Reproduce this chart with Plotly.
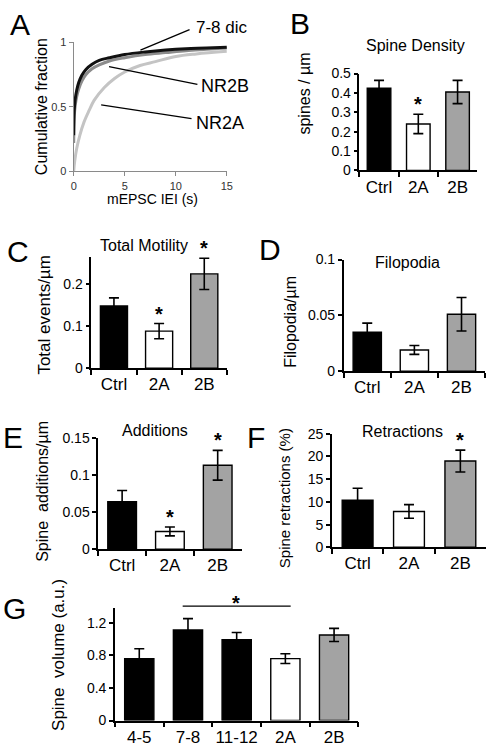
import plotly.graph_objects as go

W, H = 495, 755
FONT = "Liberation Sans, Arial, sans-serif"

# ---------------- data ----------------
# Panel A: cumulative fraction of mEPSC IEI
a_dic_x = [0, 0.05, 0.15, 0.3, 0.5, 0.8, 1.2, 1.8, 2.5, 3.5, 5, 7, 9, 11, 13, 15]
a_dic_y = [0.28, 0.47, 0.56, 0.63, 0.69, 0.745, 0.79, 0.83, 0.86, 0.88, 0.905, 0.925, 0.94, 0.95, 0.955, 0.962]
a_nr2b_x = [0, 0.05, 0.15, 0.3, 0.5, 0.8, 1.2, 1.8, 2.5, 3.5, 5, 7, 9, 11, 13, 15]
a_nr2b_y = [0.22, 0.42, 0.51, 0.58, 0.64, 0.7, 0.75, 0.795, 0.825, 0.855, 0.88, 0.905, 0.92, 0.935, 0.945, 0.955]
a_nr2a_x = [0, 0.1, 0.3, 0.6, 1.0, 1.5, 2.0, 3.0, 4.0, 5.0, 6.5, 8, 10, 12, 15]
a_nr2a_y = [0.0, 0.08, 0.18, 0.28, 0.38, 0.47, 0.55, 0.65, 0.72, 0.77, 0.82, 0.85, 0.89, 0.91, 0.93]

groups3 = ["Ctrl", "2A", "2B"]
colors3 = ["#000000", "#ffffff", "#a3a3a3"]

b_vals = [0.425, 0.24, 0.405]
b_err = [0.04, 0.05, 0.06]

c_vals = [0.148, 0.088, 0.224]
c_err = [0.019, 0.018, 0.037]

d_vals = [0.035, 0.019, 0.051]
d_err = [0.008, 0.004, 0.015]

e_vals = [0.064, 0.024, 0.113]
e_err = [0.015, 0.006, 0.020]

f_vals = [10.4, 7.9, 19.0]
f_err = [2.6, 1.5, 2.4]

groups5 = ["4-5", "7-8", "11-12", "2A", "2B"]
colors5 = ["#000000", "#000000", "#000000", "#ffffff", "#a3a3a3"]
g_vals = [0.76, 1.11, 0.99, 0.76, 1.05]
g_err = [0.12, 0.14, 0.09, 0.06, 0.08]


def px(x):
    return x / W


def py(y):
    return 1 - y / H


fig = go.Figure()

# ---------------- panel A ----------------
fig.add_trace(go.Scatter(x=a_nr2a_x, y=a_nr2a_y, mode="lines", line=dict(color="#c4c4c4", width=3, shape="spline"),
                         xaxis="x", yaxis="y", showlegend=False))
fig.add_trace(go.Scatter(x=a_nr2b_x, y=a_nr2b_y, mode="lines", line=dict(color="#8c8c8c", width=3, shape="spline"),
                         xaxis="x", yaxis="y", showlegend=False))
fig.add_trace(go.Scatter(x=a_dic_x, y=a_dic_y, mode="lines", line=dict(color="#111111", width=3, shape="spline"),
                         xaxis="x", yaxis="y", showlegend=False))

# ---------------- bar panels ----------------
panels = [
    ("2", groups3, colors3, b_vals, b_err),
    ("3", groups3, colors3, c_vals, c_err),
    ("4", groups3, colors3, d_vals, d_err),
    ("5", groups3, colors3, e_vals, e_err),
    ("6", groups3, colors3, f_vals, f_err),
    ("7", groups5, colors5, g_vals, g_err),
]
for ax, cats, cols, vals, errs in panels:
    fig.add_trace(go.Bar(
        x=cats, y=vals, width=0.6,
        marker=dict(color=cols, line=dict(color="#000000", width=1.4)),
        error_y=dict(type="data", array=errs, visible=True, color="#000000", thickness=1.6, width=5),
        xaxis="x" + ax, yaxis="y" + ax, showlegend=False,
    ))

# axis domains in pixels: (x0, x1, ytop, ybottom)
dom = {
    "": (72, 228, 35, 167),
    "2": (363, 483, 67, 166),
    "3": (90, 228, 254, 368),
    "4": (347, 491, 257, 371),
    "5": (97, 243, 439, 553),
    "6": (335, 492, 435, 551),
    "7": (114, 362, 613, 728),
}

xtickfont = dict(family=FONT, size=17, color="#000000")
ytickfont = dict(family=FONT, size=14, color="#000000")
layout = dict(
    width=W, height=H, margin=dict(l=0, r=0, t=0, b=0),
    paper_bgcolor="white", plot_bgcolor="white",
    font=dict(family=FONT, size=14, color="#000000"),
    bargap=0.4,
)

# panel A axes
x0, x1, yt, yb = dom[""]
layout["xaxis"] = dict(domain=[px(x0), px(x1)], range=[0, 15], tickvals=[0, 5, 10, 15],
                       showline=True, linecolor="#8a8a8a", linewidth=1, ticks="outside", ticklen=4,
                       tickcolor="#8a8a8a", showgrid=False, zeroline=False,
                       tickfont=dict(family=FONT, size=11, color="#333333"), anchor="y")
layout["yaxis"] = dict(domain=[py(yb), py(yt)], range=[0, 1], tickvals=[0, 0.5, 1],
                       ticktext=["0", "0.5", "1"],
                       showline=True, linecolor="#8a8a8a", linewidth=1, ticks="outside", ticklen=4,
                       tickcolor="#8a8a8a", showgrid=False, zeroline=False,
                       tickfont=dict(family=FONT, size=11, color="#333333"), anchor="x")

yaxis_specs = {
    "2": dict(range=[0, 0.5], tickvals=[0, 0.1, 0.2, 0.3, 0.4, 0.5], ticktext=["0", "0.1", "0.2", "0.3", "0.4", "0.5"]),
    "3": dict(range=[0, 0.265], tickvals=[0, 0.1, 0.2], ticktext=["0", "0.1", "0.2"]),
    "4": dict(range=[0, 0.1], tickvals=[0, 0.05, 0.1], ticktext=["0", "0.05", "0.1"]),
    "5": dict(range=[0, 0.15], tickvals=[0, 0.05, 0.1, 0.15], ticktext=["0", "0.05", "0.1", "0.15"]),
    "6": dict(range=[0, 25], tickvals=[0, 5, 10, 15, 20, 25], ticktext=["0", "5", "10", "15", "20", "25"]),
    "7": dict(range=[0, 1.38], tickvals=[0, 0.4, 0.8, 1.2], ticktext=["0", "0.4", "0.8", "1.2"]),
}
for ax, cats, cols, vals, errs in panels:
    x0, x1, yt, yb = dom[ax]
    layout["xaxis" + ax] = dict(domain=[px(x0), px(x1)], type="category", range=[-0.5, len(cats) - 0.5],
                                tickson="boundaries", ticks="outside", ticklen=5, tickwidth=1.5, tickangle=0,
                                tickcolor="#000000", showline=True, linecolor="#000000", linewidth=1.5,
                                showgrid=False, zeroline=False, tickfont=xtickfont, anchor="y" + ax)
    spec = yaxis_specs[ax]
    layout["yaxis" + ax] = dict(domain=[py(yb), py(yt)], ticks="outside", ticklen=4, tickwidth=1.5,
                                tickcolor="#000000", showline=True, linecolor="#000000", linewidth=1.5,
                                showgrid=False, zeroline=False, tickfont=ytickfont, anchor="x" + ax, **spec)

fig.update_layout(**layout)

ann = []


def text(x, y, s, size=14, xanchor="center", yanchor="middle", angle=0, color="#000000"):
    ann.append(dict(x=px(x), y=py(y), xref="paper", yref="paper", text=s, showarrow=False,
                    xanchor=xanchor, yanchor=yanchor, textangle=angle,
                    font=dict(family=FONT, size=size, color=color)))


# panel letters
for letter, (lx, ly) in {"A": (17, 17), "B": (302, 16), "C": (15, 249), "D": (272, 247),
                         "E": (10, 439), "F": (258, 439), "G": (12, 613)}.items():
    text(lx, ly, letter, size=30)

# titles
text(420, 38, "Spine Density", 16)
text(144, 243, "Total Motility", 16)
text(412, 260, "Filopodia", 16)
text(155, 432, "Additions", 16)
text(407, 433, "Retractions", 16)

# axis titles
text(40, 101, "Cumulative fraction", 16, angle=-90)
text(152, 195, "mEPSC IEI (s)", 14)
text(307, 87, "spines / µm", 16, angle=-90)
text(42, 314, "Total events/µm", 17, angle=-90)
text(293, 321, "Filopodia/µm", 16, angle=-90)
text(40, 494, "Spine\u00a0 additions/µm", 16, angle=-90)
text(287, 501, "Spine retractions (%)", 15, angle=-90)
text(57, 661, "Spine\u00a0 volume (a.u.)", 17, angle=-90)

# panel A labels
text(195, 20, "7-8 dic", 17, xanchor="left")
text(200, 80, "NR2B", 18, xanchor="left")
text(195, 117, "NR2A", 18, xanchor="left")


# significance asterisks (data-referenced)
def star(ax, cat, vals, errs, cats):
    i = cats.index(cat)
    ann.append(dict(x=cat, y=vals[i] + errs[i], xref="x" + ax, yref="y" + ax, text="<b>*</b>", showarrow=False,
                    xanchor="center", yanchor="bottom", yshift=-3,
                    font=dict(family=FONT, size=20, color="#000000")))


star("2", "2A", b_vals, b_err, groups3)
star("3", "2A", c_vals, c_err, groups3)
star("3", "2B", c_vals, c_err, groups3)
star("5", "2A", e_vals, e_err, groups3)
star("5", "2B", e_vals, e_err, groups3)
star("6", "2B", f_vals, f_err, groups3)
text(237, 608, "<b>*</b>", 20)

shapes = []


def line(xa, ya, xb, yb_, w=1.3):
    shapes.append(dict(type="line", xref="paper", yref="paper", x0=px(xa), y0=py(ya), x1=px(xb), y1=py(yb_),
                       line=dict(color="#000000", width=w)))


line(140, 43, 190, 22)
line(108, 60, 198, 78)
line(100, 99, 192, 113)
line(183, 611, 293, 611)

fig.update_layout(annotations=ann, shapes=shapes)
fig.write_html("out.html", config={"displayModeBar": False},
               post_script="document.body.style.margin='0';document.body.style.padding='0';")
